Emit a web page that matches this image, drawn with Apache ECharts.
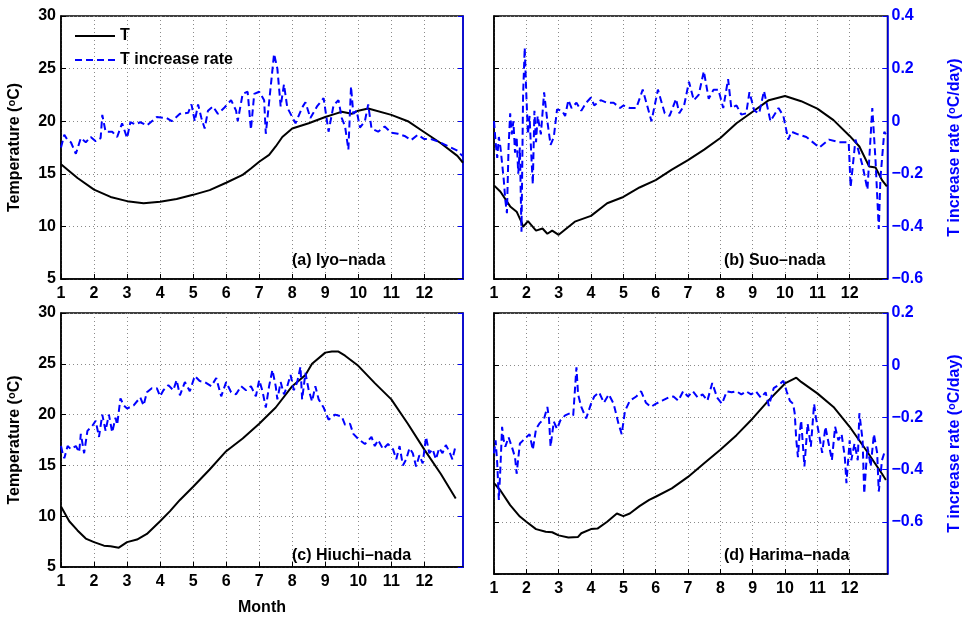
<!DOCTYPE html>
<html>
<head>
<meta charset="utf-8">
<script src="https://cdn.jsdelivr.net/npm/echarts@6/dist/echarts.min.js"></script>
<style>
  html, body { margin: 0; padding: 0; background: #fff; }
  #chart-container { width: 964px; height: 617px; }
</style>
</head>
<body>
<div id="chart-container"></div>
<script>
// month positions on the x axis, data as [month, value]
const monthTicks = [1, 2, 3, 4, 5, 6, 7, 8, 9, 10, 11, 12];
const panelNames = ['(a) Iyo\u2013nada', '(b) Suo\u2013nada', '(c) Hiuchi\u2013nada', '(d) Harima\u2013nada'];

// temperature (deg C)
const iyoT = [[1,15.9],[1.5,14.6],[2,13.5],[2.5,12.8],[3,12.4],[3.5,12.2],[4,12.35],[4.5,12.6],[5,13.0],[5.5,13.45],[6,14.15],[6.5,14.9],[6.75,15.5],[7,16.15],[7.3,16.8],[7.5,17.6],[7.7,18.5],[8,19.3],[8.5,19.8],[9,20.4],[9.3,20.7],[9.5,20.9],[9.8,20.7],[10,21.0],[10.3,21.2],[11,20.6],[11.5,20.0],[12,18.95],[12.5,17.9],[13,16.7],[13.17,16.05]];
const suoT = [[1,13.9],[1.2,13.3],[1.5,11.9],[1.7,11.4],[1.85,10.4],[1.9,9.95],[2.05,10.5],[2.3,9.6],[2.5,9.8],[2.65,9.3],[2.8,9.6],[3,9.2],[3.5,10.45],[4,11.0],[4.5,12.2],[5,12.8],[5.5,13.7],[6,14.4],[6.5,15.4],[7,16.3],[7.5,17.3],[8,18.4],[8.5,19.8],[9,20.9],[9.5,22.0],[10,22.4],[10.5,21.9],[11,21.2],[11.5,20.1],[12,18.6],[12.3,17.6],[12.6,15.7],[12.8,15.6],[13,14.4],[13.15,13.8]];
const hiuchiT = [[1,10.96],[1.25,9.5],[1.5,8.6],[1.75,7.8],[2,7.45],[2.3,7.1],[2.5,7.05],[2.75,6.9],[3,7.45],[3.3,7.7],[3.6,8.25],[4,9.5],[4.3,10.5],[4.6,11.6],[5,12.9],[5.5,14.6],[6,16.4],[6.5,17.65],[7,19.1],[7.5,20.7],[8,22.8],[8.4,23.9],[8.6,25.0],[9,26.1],[9.2,26.2],[9.4,26.2],[9.6,25.8],[10,24.8],[10.5,23.1],[11,21.5],[11.5,19.1],[12,16.55],[12.5,14.15],[12.95,11.75]];
const harimaT = [[1,13.7],[1.2,13.0],[1.5,11.6],[1.8,10.5],[2,10.0],[2.3,9.3],[2.6,9.05],[2.8,9.0],[3,8.7],[3.3,8.5],[3.6,8.55],[3.7,8.9],[4,9.3],[4.2,9.35],[4.5,10.0],[4.8,10.8],[5,10.55],[5.2,10.8],[5.5,11.5],[5.8,12.1],[6,12.4],[6.5,13.2],[7,14.3],[7.5,15.6],[8,16.9],[8.5,18.3],[9,19.9],[9.5,21.65],[10,23.25],[10.35,23.8],[10.5,23.4],[11,22.3],[11.5,21.0],[12,19.1],[12.5,16.9],[13,14.6],[13.12,14.0]];

// T increase rate (deg C/day)
const iyoRate = [[1,-0.1],[1.1,-0.052],[1.2,-0.072],[1.3,-0.08],[1.45,-0.124],[1.6,-0.064],[1.75,-0.08],[1.9,-0.06],[2.05,-0.076],[2.2,-0.064],[2.25,0.024],[2.35,-0.04],[2.55,-0.04],[2.7,-0.06],[2.85,-0.008],[3,-0.064],[3.1,-0.004],[3.25,-0.012],[3.4,-0.004],[3.6,-0.016],[3.9,0.016],[4.2,0.012],[4.35,0],[4.6,0.028],[4.85,0.032],[4.95,0.064],[5.05,0],[5.15,0.064],[5.25,0.012],[5.35,-0.028],[5.45,0.04],[5.6,0.056],[5.75,0.028],[5.95,0.052],[6.15,0.08],[6.3,0.04],[6.35,0],[6.5,0.104],[6.65,0.112],[6.75,-0.032],[6.85,0.104],[7,0.112],[7.15,0.08],[7.2,-0.048],[7.3,0.072],[7.45,0.256],[7.55,0.2],[7.65,0.056],[7.75,0.14],[7.85,0.052],[8,0.016],[8.1,-0.008],[8.3,0.052],[8.4,0.072],[8.55,0.012],[8.75,0.056],[8.95,0.088],[9.1,-0.04],[9.25,0.06],[9.4,0.08],[9.5,0.012],[9.6,-0.02],[9.7,-0.108],[9.78,0.132],[9.85,0.028],[9.95,0.04],[10.05,-0.024],[10.2,0],[10.3,0.064],[10.4,-0.028],[10.6,-0.04],[10.8,-0.02],[11,-0.044],[11.2,-0.048],[11.4,-0.056],[11.6,-0.072],[11.8,-0.052],[12,-0.068],[12.2,-0.068],[12.4,-0.076],[12.6,-0.088],[12.8,-0.1],[13,-0.112],[13.15,-0.132]];
const suoRate = [[1,0],[1.05,-0.08],[1.1,-0.14],[1.15,-0.06],[1.2,-0.1],[1.25,-0.16],[1.3,-0.22],[1.35,-0.3],[1.4,-0.35],[1.45,-0.1],[1.5,0.03],[1.55,-0.05],[1.6,0],[1.65,-0.12],[1.7,-0.06],[1.75,-0.2],[1.8,-0.1],[1.85,-0.42],[1.9,0.1],[1.95,0.28],[2,0.1],[2.05,-0.05],[2.1,0.02],[2.15,-0.12],[2.2,-0.24],[2.25,0.04],[2.3,-0.08],[2.35,0.02],[2.45,-0.05],[2.55,0.11],[2.65,0],[2.75,-0.09],[2.85,-0.06],[2.95,0.045],[3.1,0.04],[3.2,0.02],[3.3,0.08],[3.4,0.05],[3.55,0.07],[3.7,0.04],[3.85,0.07],[4,0.09],[4.1,0.06],[4.3,0.08],[4.5,0.07],[4.7,0.07],[4.9,0.05],[5,0.06],[5.2,0.05],[5.4,0.05],[5.6,0.12],[5.87,0],[6.07,0.12],[6.28,0.03],[6.43,0.02],[6.63,0.085],[6.73,0.03],[6.88,0.06],[7.03,0.15],[7.18,0.08],[7.33,0.1],[7.49,0.19],[7.64,0.085],[7.79,0.12],[7.94,0.12],[8.09,0.05],[8.24,0.16],[8.34,0.05],[8.5,0.06],[8.65,0.025],[8.8,0.03],[8.9,0.11],[9.05,0.04],[9.2,0.03],[9.35,0.115],[9.55,0],[9.8,0.05],[9.95,0.02],[10.1,-0.07],[10.2,-0.04],[10.4,-0.05],[10.66,-0.06],[11.06,-0.1],[11.36,-0.07],[11.67,-0.08],[11.97,-0.08],[12.03,-0.25],[12.18,-0.07],[12.4,-0.17],[12.55,-0.26],[12.7,0.05],[12.8,-0.15],[12.9,-0.41],[12.95,-0.22],[13.07,-0.04],[13.12,-0.05]];
const hiuchiRate = [[1,-0.324],[1.05,-0.352],[1.1,-0.372],[1.2,-0.324],[1.3,-0.336],[1.45,-0.324],[1.55,-0.348],[1.6,-0.276],[1.7,-0.352],[1.8,-0.264],[1.95,-0.244],[2.05,-0.224],[2.15,-0.288],[2.25,-0.2],[2.35,-0.264],[2.45,-0.2],[2.55,-0.27],[2.65,-0.212],[2.7,-0.24],[2.8,-0.136],[2.9,-0.164],[3,-0.176],[3.2,-0.164],[3.4,-0.132],[3.5,-0.164],[3.6,-0.112],[3.75,-0.096],[3.9,-0.096],[4,-0.128],[4.1,-0.104],[4.25,-0.084],[4.4,-0.104],[4.5,-0.064],[4.6,-0.124],[4.75,-0.072],[4.9,-0.108],[5.05,-0.048],[5.2,-0.068],[5.35,-0.072],[5.55,-0.088],[5.7,-0.056],[5.85,-0.128],[6,-0.072],[6.15,-0.112],[6.3,-0.12],[6.45,-0.088],[6.6,-0.104],[6.75,-0.088],[6.9,-0.128],[7,-0.064],[7.1,-0.108],[7.2,-0.172],[7.3,-0.088],[7.4,-0.024],[7.5,-0.088],[7.55,-0.14],[7.65,-0.072],[7.75,-0.12],[7.85,-0.088],[7.95,-0.044],[8.05,-0.104],[8.15,-0.072],[8.25,-0.012],[8.3,-0.14],[8.4,-0.036],[8.5,-0.104],[8.6,-0.148],[8.7,-0.088],[8.8,-0.14],[8.95,-0.172],[9.1,-0.22],[9.3,-0.2],[9.5,-0.208],[9.6,-0.24],[9.75,-0.236],[9.85,-0.276],[10,-0.296],[10.2,-0.316],[10.4,-0.288],[10.5,-0.324],[10.6,-0.3],[10.75,-0.336],[10.9,-0.316],[11.05,-0.336],[11.15,-0.376],[11.25,-0.324],[11.35,-0.4],[11.45,-0.376],[11.55,-0.332],[11.65,-0.352],[11.75,-0.404],[11.85,-0.36],[11.95,-0.392],[12.05,-0.288],[12.15,-0.352],[12.25,-0.336],[12.35,-0.376],[12.45,-0.332],[12.55,-0.352],[12.65,-0.32],[12.75,-0.344],[12.85,-0.376],[12.95,-0.32]];
const harimaRate = [[1,-0.338],[1.05,-0.288],[1.1,-0.376],[1.15,-0.516],[1.2,-0.388],[1.25,-0.236],[1.3,-0.288],[1.35,-0.312],[1.45,-0.276],[1.55,-0.312],[1.65,-0.352],[1.7,-0.416],[1.8,-0.3],[1.9,-0.288],[2,-0.276],[2.1,-0.264],[2.2,-0.324],[2.3,-0.244],[2.4,-0.224],[2.55,-0.204],[2.65,-0.16],[2.7,-0.204],[2.75,-0.312],[2.85,-0.216],[2.95,-0.244],[3.05,-0.212],[3.2,-0.192],[3.35,-0.184],[3.45,-0.192],[3.55,-0.008],[3.6,-0.112],[3.7,-0.16],[3.85,-0.204],[4,-0.148],[4.1,-0.12],[4.25,-0.104],[4.4,-0.144],[4.55,-0.112],[4.7,-0.148],[4.85,-0.224],[4.95,-0.264],[5.05,-0.176],[5.2,-0.136],[5.4,-0.12],[5.55,-0.1],[5.7,-0.144],[5.85,-0.16],[6,-0.148],[6.2,-0.136],[6.4,-0.124],[6.55,-0.12],[6.7,-0.136],[6.85,-0.1],[7,-0.12],[7.15,-0.1],[7.3,-0.124],[7.45,-0.112],[7.6,-0.136],[7.75,-0.068],[7.9,-0.124],[8.05,-0.148],[8.2,-0.1],[8.35,-0.104],[8.5,-0.1],[8.65,-0.112],[8.8,-0.1],[8.95,-0.112],[9.1,-0.1],[9.25,-0.124],[9.4,-0.104],[9.5,-0.156],[9.65,-0.088],[9.8,-0.076],[9.95,-0.06],[10.05,-0.1],[10.15,-0.136],[10.25,-0.148],[10.3,-0.184],[10.35,-0.288],[10.4,-0.352],[10.45,-0.264],[10.5,-0.212],[10.55,-0.3],[10.6,-0.388],[10.7,-0.224],[10.8,-0.312],[10.9,-0.148],[10.95,-0.196],[11.05,-0.264],[11.15,-0.336],[11.25,-0.236],[11.35,-0.3],[11.45,-0.364],[11.55,-0.236],[11.65,-0.288],[11.75,-0.264],[11.85,-0.352],[11.9,-0.452],[12,-0.288],[12.05,-0.364],[12.15,-0.3],[12.25,-0.364],[12.3,-0.184],[12.4,-0.288],[12.45,-0.492],[12.55,-0.312],[12.65,-0.388],[12.75,-0.264],[12.85,-0.336],[12.9,-0.484],[13,-0.364],[13.1,-0.324]];

const tempSeries = [iyoT, suoT, hiuchiT, harimaT];
const rateSeries = [iyoRate, suoRate, hiuchiRate, harimaRate];
const rateRanges = [[-0.6, 0.4], [-0.6, 0.4], [-0.8, 0.2], [-0.8, 0.2]];

const FONT = 'Liberation Sans, Arial, sans-serif';
const BLUE = '#0000ff';

let dom = document.getElementById('chart-container');
let myChart = echarts.init(dom, null, { renderer: 'canvas' });

const grids = [
  { left: 61, top: 16, width: 402, height: 263 },
  { left: 494, top: 16, width: 401, height: 263 },
  { left: 61, top: 313, width: 402, height: 261 },
  { left: 494, top: 313, width: 401, height: 261 }
];

const gridLine = { show: true, lineStyle: { color: '#8a8a8a', type: [1, 3], width: 1 } };
const labelFont = { fontFamily: FONT, fontWeight: 'bold', fontSize: 16 };

function rateLabel(v) {
  if (Math.abs(v) < 1e-9) return '0';
  let s = Math.abs(v).toFixed(1);
  return v < 0 ? '\u2212' + s : s;
}

let xAxes = [], yAxes = [], series = [], titles = [];
for (let i = 0; i < 4; i++) {
  xAxes.push({
    type: 'value', gridIndex: i, min: 1, max: 13.17, interval: 1,
    name: i === 2 ? 'Month' : '', nameLocation: 'middle', nameGap: 33,
    nameTextStyle: Object.assign({ color: '#000' }, labelFont),
    axisLine: { onZero: false, lineStyle: { color: '#000', width: 1.5 } },
    axisTick: { inside: true, length: 5, customValues: monthTicks, lineStyle: { color: '#000' } },
    axisLabel: Object.assign({ color: '#000', margin: 7, customValues: monthTicks }, labelFont),
    splitLine: gridLine
  });
}
for (let i = 0; i < 4; i++) {
  const left = i % 2 === 0;
  yAxes.push({
    type: 'value', gridIndex: i, position: 'left', min: 5, max: 30, interval: 5,
    name: left ? 'Temperature (' + '{sup|o}' + 'C)' : '', nameLocation: 'middle', nameGap: 38,
    nameTextStyle: Object.assign({ color: '#000', rich: { sup: { fontSize: 11, fontWeight: 'bold', fontFamily: FONT, verticalAlign: 'top', padding: [0, 0, 6, 0] } } }, labelFont),
    axisLine: { show: true, onZero: false, lineStyle: { color: '#000', width: 1.5 } },
    axisTick: { show: true, inside: true, length: 5, lineStyle: { color: '#000' } },
    axisLabel: Object.assign({ show: left, color: '#000', margin: 5 }, labelFont),
    splitLine: gridLine
  });
}
for (let i = 0; i < 4; i++) {
  const right = i % 2 === 1;
  yAxes.push({
    type: 'value', gridIndex: i, position: 'right',
    min: rateRanges[i][0], max: rateRanges[i][1], interval: 0.2,
    name: right ? 'T increase rate (' + '{sup|o}' + 'C/day)' : '', nameLocation: 'middle', nameGap: 59,
    nameTextStyle: Object.assign({ color: BLUE, rich: { sup: { fontSize: 11, fontWeight: 'bold', fontFamily: FONT, color: BLUE, verticalAlign: 'top', padding: [0, 0, 6, 0] } } }, labelFont),
    axisLine: { show: true, onZero: false, lineStyle: { color: BLUE, width: 1.5 } },
    axisTick: { show: true, inside: true, length: 5, lineStyle: { color: BLUE } },
    axisLabel: Object.assign({ show: right, color: BLUE, margin: 4, showMinLabel: i < 2, formatter: rateLabel }, labelFont),
    splitLine: { show: false }
  });
}
for (let i = 0; i < 4; i++) {
  series.push({
    name: 'T', type: 'line', xAxisIndex: i, yAxisIndex: i,
    data: tempSeries[i], showSymbol: false, symbol: 'none',
    lineStyle: { color: '#000', width: 2 }, itemStyle: { color: '#000' },
    animation: false
  });
  series.push({
    name: 'T increase rate', type: 'line', xAxisIndex: i, yAxisIndex: i + 4,
    data: rateSeries[i], showSymbol: false, symbol: 'none',
    lineStyle: { color: BLUE, width: 2, type: [7, 4] }, itemStyle: { color: BLUE },
    animation: false
  });
  titles.push({
    text: panelNames[i], left: i % 2 === 0 ? 292 : 724, top: i < 2 ? 253 : 548,
    padding: 0,
    textStyle: Object.assign({ color: '#000' }, labelFont)
  });
}

let option = {
  backgroundColor: '#fff',
  animation: false,
  title: titles,
  legend: {
    left: 74, top: 28, orient: 'vertical', itemWidth: 40, itemHeight: 12, itemGap: 8,
    padding: 0,
    data: ['T', 'T increase rate'],
    itemStyle: { opacity: 0 },
    textStyle: Object.assign({ color: '#000' }, labelFont)
  },
  grid: grids.map(g => Object.assign({ show: true, borderColor: '#000', borderWidth: 1.5, backgroundColor: 'transparent' }, g)),
  xAxis: xAxes,
  yAxis: yAxes,
  series: series
};

if (option && typeof option === 'object') {
  myChart.setOption(option);
}

window.addEventListener('resize', myChart.resize);
</script>
</body>
</html>
